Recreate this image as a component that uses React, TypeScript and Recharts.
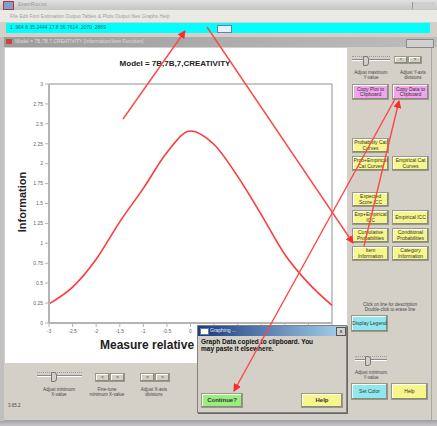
import React from 'react'
import { LineChart, Line, XAxis, YAxis, ReferenceLine } from 'recharts'

// item information function
const measures = [-3, -2.5, -2, -1.5, -1, -0.5, 0, 0.5, 1, 1.5, 2, 2.5, 3]
const information = [0.24, 0.45, 0.8, 1.27, 1.69, 2.14, 2.41, 2.24, 1.84, 1.36, 0.86, 0.5, 0.22]
const xTicks = [-3, -2.5, -2, -1.5, -1, -0.5, 0, 0.5, 1, 1.5, 2, 2.5, 3]
const yTicks = [0, 0.25, 0.5, 0.75, 1, 1.25, 1.5, 1.75, 2, 2.25, 2.5, 2.75, 3]

const data = measures.map((m, i) => ({ measure: m, info: information[i] }))

const FONT = '"Liberation Sans", Arial, sans-serif'
const GRAY = '#d4d0c8'

function Btn({ x, y, w, h, bg, text, bold = false, size = 5 }: any) {
   return (
      <div
         style={{
            position: 'absolute',
            left: x,
            top: y,
            width: w,
            height: h,
            background: bg,
            border: '1px solid #9a9a80',
            boxShadow: 'inset -1px -1px 0 #888, inset 1px 1px 0 #fff',
            boxSizing: 'border-box',
            display: 'flex',
            alignItems: 'center',
            justifyContent: 'center',
            textAlign: 'center',
            fontSize: size,
            lineHeight: 1.1,
            fontWeight: bold ? 'bold' : 'normal',
            color: '#333',
         }}
      >
         {text}
      </div>
   )
}

function Txt({ x, y, w, text, size = 5, color = '#444', align = 'center', bold = false }: any) {
   return (
      <div
         style={{
            position: 'absolute',
            left: x,
            top: y,
            width: w,
            fontSize: size,
            lineHeight: 1.15,
            color,
            textAlign: align,
            fontWeight: bold ? 'bold' : 'normal',
            whiteSpace: 'pre-line',
         }}
      >
         {text}
      </div>
   )
}

function Slider({ x, y, w }: any) {
   return (
      <div style={{ position: 'absolute', left: x, top: y, width: w, height: 8 }}>
         <div style={{ position: 'absolute', left: 0, top: 3, width: w, height: 1, background: '#888', borderBottom: '1px solid #fff' }} />
         <div style={{ position: 'absolute', left: 0, top: 0, width: w, height: 1, borderTop: '1px dotted #999' }} />
         <div style={{ position: 'absolute', left: w * 0.3, top: 0, width: 4, height: 8, background: GRAY, border: '1px solid #777', borderRadius: '0 3px 3px 0' }} />
      </div>
   )
}

function Arrows() {
   return (
      <svg width={437} height={426} style={{ position: 'absolute', left: 0, top: 0, pointerEvents: 'none' }}>
         <defs>
            <marker id="head" markerWidth="8" markerHeight="8" refX="7" refY="4" orient="auto" markerUnits="userSpaceOnUse">
               <path d="M0,0 L8,4 L0,8 z" fill="#ff2a2a" />
            </marker>
         </defs>
         <g stroke="#ff4646" strokeWidth={1.4} fill="none" markerEnd="url(#head)">
            <line x1={123} y1={119} x2={185} y2={31} />
            <line x1={207} y1={27} x2={353} y2={243} />
            <line x1={364} y1={246} x2={399} y2={101} />
            <line x1={395} y1={99} x2={234} y2={391} />
         </g>
      </svg>
   )
}

export default function App() {
   return (
      <div
         style={{
            position: 'fixed',
            left: 0,
            top: 0,
            width: 437,
            height: 426,
            overflow: 'hidden',
            background: GRAY,
            fontFamily: FONT,
         }}
      >
         {/* outer title bar */}
         <div style={{ position: 'absolute', left: 0, top: 0, width: 437, height: 10, background: 'linear-gradient(#e2e2e2, #c4c4c4)' }} />
         <div style={{ position: 'absolute', left: 3, top: 1, width: 9, height: 7, background: '#7aa0d0', border: '1px solid #c03030' }} />
         <Txt x={18} y={2} w={60} text="ExamRun.txt" size={5} color="#999" align="left" />
         <div style={{ position: 'absolute', left: 412, top: 2, width: 22, height: 7, background: '#cfcfcf', borderLeft: '1px solid #999' }} />

         {/* menu bar */}
         <div style={{ position: 'absolute', left: 0, top: 10, width: 437, height: 12, background: '#ebe9e4' }} />
         <Txt x={10} y={14} w={230} align="left" size={5} color="#a0a0a0" text="File    Edit    Font    Estimation    Output Tables & Plots    Output files    Graphs    Help" />

         {/* cyan status bar */}
         <div style={{ position: 'absolute', left: 6, top: 23, width: 424, height: 10, background: '#00ffff' }} />
         <Txt x={10} y={25} w={210} align="left" size={5} color="#3a6a6a" text="1  .964    8      35.2444   17.8      36.7614        .2070       .2869" />
         <div style={{ position: 'absolute', left: 217, top: 25, width: 13, height: 6, background: '#e8f0ff', border: '1px solid #6080b0' }} />

         {/* inner window title */}
         <div style={{ position: 'absolute', left: 4, top: 37, width: 433, height: 10, background: 'linear-gradient(90deg, #9c9c9c, #bdbdbd)' }} />
         <div style={{ position: 'absolute', left: 6, top: 39, width: 6, height: 5, background: '#d04040' }} />
         <Txt x={15} y={39} w={200} align="left" size={5} color="#dedede" text="Model = 7B,7B,7,CREATIVITY   [Information/Item Function]" />
         <div style={{ position: 'absolute', left: 406, top: 39, width: 26, height: 7, background: '#d0d0d0', border: '1px solid #888' }} />

         {/* chart panel */}
         <div style={{ position: 'absolute', left: 5, top: 48, width: 342, height: 315, background: '#fff' }}>
            <LineChart width={342} height={315} data={data} margin={{ top: 36, right: 15, left: 0, bottom: 0 }}>
               <XAxis
                  type="number"
                  dataKey="measure"
                  domain={[-3, 3]}
                  ticks={xTicks}
                  height={40}
                  axisLine={{ stroke: '#b4b4b4', strokeWidth: 2 }}
                  tickLine={{ stroke: '#b4b4b4' }}
                  tickSize={4}
                  tick={{ fontSize: 5, fill: '#666', fontFamily: FONT }}
               />
               <YAxis
                  type="number"
                  domain={[0, 3]}
                  ticks={yTicks}
                  width={44}
                  axisLine={{ stroke: '#b4b4b4', strokeWidth: 2 }}
                  tickLine={{ stroke: '#b4b4b4' }}
                  tickSize={4}
                  tick={{ fontSize: 5, fill: '#666', fontFamily: FONT }}
               />
               <ReferenceLine y={3} stroke="#b4b4b4" strokeWidth={1.5} />
               <ReferenceLine x={3} stroke="#b4b4b4" strokeWidth={1.5} />
               <Line
                  type="monotone"
                  dataKey="info"
                  stroke="#ff3a3a"
                  strokeWidth={1.6}
                  dot={false}
                  isAnimationActive={false}
               />
            </LineChart>
         </div>
         <Txt x={100} y={59} w={150} size={8} bold color="#222" text="Model = 7B,7B,7,CREATIVITY" />
         <div
            style={{
               position: 'absolute',
               left: 22 - 40,
               top: 203 - 7,
               width: 80,
               textAlign: 'center',
               transform: 'rotate(-90deg)',
               fontSize: 11,
               fontWeight: 'bold',
               color: '#222',
            }}
         >
            Information
         </div>
         {/* x label runs on under the dialog, so clip it where the dialog starts */}
         <div style={{ position: 'absolute', left: 100, top: 338, width: 97, height: 15, overflow: 'hidden' }}>
            <div style={{ fontSize: 12, fontWeight: 'bold', color: '#222', whiteSpace: 'nowrap', lineHeight: '15px' }}>
               Measure relative to item difficulty
            </div>
         </div>

         {/* bottom controls */}
         <Slider x={37} y={372} w={45} />
         <Txt x={30} y={387} w={58} text={'Adjust minimum\nX-value'} size={4.5} />
         <Btn x={95} y={373} w={15} h={9} bg={GRAY} text="<" />
         <Btn x={110} y={373} w={15} h={9} bg={GRAY} text=">" />
         <Txt x={82} y={387} w={50} text={'Fine-tune\nminimum X-value'} size={4.5} />
         <Btn x={140} y={373} w={15} h={9} bg={GRAY} text="<" />
         <Btn x={155} y={373} w={15} h={9} bg={GRAY} text=">" />
         <Txt x={132} y={387} w={44} text={'Adjust X-axis\ndivisions'} size={4.5} />
         <Txt x={8} y={403} w={20} align="left" text="3.65.2" size={4.5} />

         {/* right panel */}
         <Slider x={352} y={56} w={38} />
         <Btn x={394} y={56} w={14} h={8} bg={GRAY} text="<" />
         <Btn x={408} y={56} w={14} h={8} bg={GRAY} text=">" />
         <Txt x={348} y={70} w={46} text={'Adjust maximum\nY-value'} size={4.5} />
         <Txt x={392} y={70} w={42} text={'Adjust Y-axis\ndivisions'} size={4.5} />
         <Btn x={352} y={84} w={37} h={16} bg="#f2a4ee" text={'Copy Plot to\nClipboard'} />
         <Btn x={392} y={84} w={37} h={16} bg="#f2a4ee" text={'Copy Data to\nClipboard'} />
         <Btn x={352} y={138} w={37} h={15} bg="#f6f68a" text="Probability Cat Curves" />
         <Btn x={352} y={156} w={37} h={15} bg="#f6f68a" text="Prob+Empirical Cat Curves" />
         <Btn x={392} y={156} w={37} h={15} bg="#f6f68a" text="Empirical Cat Curves" />
         <Btn x={352} y={192} w={37} h={15} bg="#f6f68a" text="Expected Score ICC" />
         <Btn x={352} y={210} w={37} h={15} bg="#f6f68a" text="Exp+Empirical ICC" />
         <Btn x={392} y={210} w={37} h={15} bg="#f6f68a" text="Empirical ICC" />
         <Btn x={352} y={228} w={37} h={15} bg="#f6f68a" text="Cumulative Probabilities" />
         <Btn x={392} y={228} w={37} h={15} bg="#f6f68a" text="Conditional Probabilities" />
         <Btn x={352} y={246} w={37} h={15} bg="#f6f68a" text="Item Information" />
         <Btn x={392} y={246} w={37} h={15} bg="#f6f68a" text="Category Information" />
         <Txt x={350} y={302} w={80} text={'Click on line for description\nDouble-click to erase line'} size={4.5} />
         <Btn x={351} y={315} w={37} h={17} bg="#8ee8ee" text="Display Legend" />
         <Slider x={355} y={356} w={32} />
         <Txt x={348} y={370} w={46} text={'Adjust minimum\nY-value'} size={4.5} />
         <Btn x={351} y={383} w={37} h={17} bg="#8ee8ee" text="Set Color" />
         <Btn x={391} y={383} w={37} h={17} bg="#f6f68a" text="Help" />
         <div style={{ position: 'absolute', left: 431, top: 48, width: 1, height: 372, background: '#a8a8a8' }} />

         {/* bottom frame */}
         <div style={{ position: 'absolute', left: 0, top: 420, width: 437, height: 6, background: 'linear-gradient(#a0a0a0, #c8c8c8)' }} />
         <div style={{ position: 'absolute', left: 0, top: 37, width: 4, height: 384, background: '#c0c0c0' }} />

         {/* dialog */}
         <div style={{ position: 'absolute', left: 197, top: 325, width: 150, height: 88, background: GRAY, border: '1px solid #808080', boxSizing: 'border-box', boxShadow: '1px 1px 0 #666' }}>
            <div style={{ position: 'absolute', left: 0, top: 0, width: 148, height: 10, background: 'linear-gradient(90deg, #1a3a7e, #a8d4ee)' }} />
            <div style={{ position: 'absolute', left: 2, top: 2, width: 7, height: 5, background: '#fff', border: '1px solid #6080a0' }} />
            <Txt x={12} y={2} w={60} align="left" size={5} color="#e8eef8" text="Graphing ..." />
            <div style={{ position: 'absolute', left: 138, top: 1, width: 8, height: 7, background: GRAY, border: '1px solid #555', fontSize: 5, lineHeight: '7px', textAlign: 'center' }}>x</div>
            <Txt x={3} y={12} w={145} align="left" size={6.5} bold color="#111" text={'Graph Data copied to clipboard.  You\nmay paste it elsewhere.'} />
            <Btn x={3} y={67} w={42} h={15} bg="#98ee7e" text="Continue?" bold size={6} />
            <Btn x={103} y={67} w={42} h={15} bg="#f6f68a" text="Help" bold size={6} />
         </div>

         <Arrows />
      </div>
   )
}
